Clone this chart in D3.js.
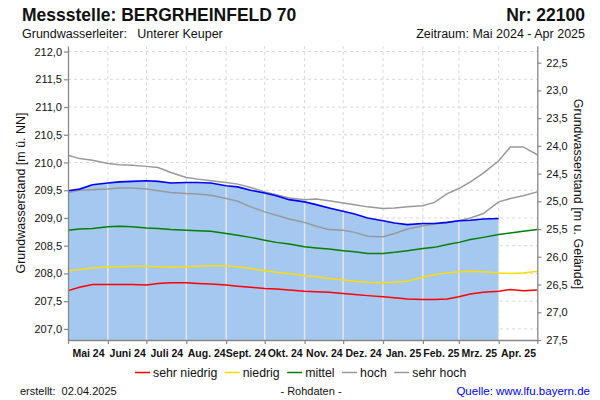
<!DOCTYPE html>
<html>
<head>
<meta charset="utf-8">
<script src="https://cdn.jsdelivr.net/npm/d3@7"></script>
<style>
  html, body { margin: 0; padding: 0; background: #fff; }
  svg { display: block; font-family: "Liberation Sans", Arial, sans-serif; }
</style>
</head>
<body>
<svg id="chart" width="600" height="400"></svg>
<script>
// ---------- data ----------
const dates = ["2024-05-01","2024-05-10","2024-05-20","2024-06-01","2024-06-10","2024-06-20","2024-07-01","2024-07-10","2024-07-20","2024-08-01","2024-08-10","2024-08-20","2024-09-01","2024-09-10","2024-09-20","2024-10-01","2024-10-10","2024-10-20","2024-11-01","2024-11-10","2024-11-20","2024-12-01","2024-12-10","2024-12-20","2025-01-01","2025-01-10","2025-01-20","2025-02-01","2025-02-10","2025-02-20","2025-03-01","2025-03-10","2025-03-20","2025-04-01","2025-04-10","2025-04-20","2025-05-01"];
const sehrHoch = [210.13,210.07,210.04,209.98,209.96,209.95,209.93,209.91,209.82,209.73,209.70,209.67,209.64,209.61,209.55,209.47,209.42,209.36,209.33,209.34,209.31,209.27,209.24,209.20,209.17,209.18,209.20,209.22,209.28,209.44,209.53,209.65,209.81,210.03,210.28,210.28,210.14];
const hoch = [209.46,209.50,209.51,209.52,209.54,209.54,209.52,209.49,209.46,209.44,209.43,209.41,209.35,209.30,209.20,209.11,209.05,208.98,208.92,208.85,208.79,208.78,208.74,208.67,208.66,208.72,208.80,208.86,208.89,208.92,208.95,209.00,209.08,209.29,209.35,209.40,209.47];
const mittel = [208.78,208.80,208.81,208.84,208.85,208.84,208.82,208.81,208.79,208.78,208.77,208.76,208.72,208.69,208.65,208.60,208.56,208.53,208.48,208.46,208.44,208.41,208.39,208.36,208.36,208.38,208.41,208.45,208.47,208.52,208.56,208.61,208.65,208.70,208.73,208.76,208.79];
const niedrig = [208.05,208.07,208.10,208.12,208.12,208.13,208.13,208.12,208.11,208.12,208.13,208.14,208.14,208.12,208.09,208.05,208.02,208.00,207.96,207.94,207.91,207.88,207.86,207.84,207.83,207.84,207.86,207.93,207.98,208.01,208.03,208.04,208.03,208.01,208.00,208.01,208.04];
const sehrNiedrig = [207.69,207.75,207.80,207.80,207.80,207.80,207.79,207.82,207.83,207.83,207.82,207.81,207.79,207.77,207.75,207.73,207.72,207.70,207.68,207.67,207.66,207.64,207.62,207.60,207.58,207.56,207.54,207.53,207.53,207.54,207.58,207.63,207.66,207.68,207.71,207.69,207.70];
// current measurements (May 2024 - Apr 1 2025)
const aktuell = [209.49,209.52,209.60,209.63,209.65,209.66,209.67,209.66,209.63,209.64,209.64,209.63,209.58,209.56,209.50,209.45,209.40,209.33,209.29,209.24,209.18,209.12,209.07,209.00,208.95,208.91,208.88,208.90,208.90,208.92,208.95,208.96,208.98,208.99];
const monthLabels = ["Mai 24","Juni 24","Juli 24","Aug. 24","Sept. 24","Okt. 24","Nov. 24","Dez. 24","Jan. 25","Feb. 25","Mrz. 25","Apr. 25"];
const leftTicks = [207.0,207.5,208.0,208.5,209.0,209.5,210.0,210.5,211.0,211.5,212.0];
const rightTicks = [22.5,23.0,23.5,24.0,24.5,25.0,25.5,26.0,26.5,27.0,27.5];
const gelaende = 234.3;
const legendNames = ["sehr niedrig","niedrig","mittel","hoch","sehr hoch"];
const legendColors = ["#ff0000","#ffdd00","#008000","#999999","#999999"];

// ---------- layout ----------
const svg = d3.select("#chart");
const L = 68, R = 537.3, T = 46, B = 340;
const parse = d3.utcParse("%Y-%m-%d");
const D = dates.map(parse);

const x = d3.scaleUtc().domain([parse("2024-05-01"), parse("2025-05-01")]).range([L, R]);
const y = d3.scaleLinear().domain([206.8, 212.1]).range([B, T]);
const yR = d3.scaleLinear().domain([gelaende - 206.8, gelaende - 212.1]).range([B, T]);
const fmt = v => d3.format(".1f")(v).replace(".", ",");
const months = d3.utcMonth.range(parse("2024-05-01"), parse("2025-05-02"));

// dashed grid
const grid = svg.append("g");
grid.selectAll("line.h").data(leftTicks).enter().append("line")
  .attr("x1", L).attr("x2", R).attr("y1", d => y(d)).attr("y2", d => y(d))
  .attr("stroke", "#d9d9d9").attr("stroke-dasharray", "3,3");
grid.selectAll("line.v").data(months.slice(1, -1)).enter().append("line")
  .attr("x1", d => x(d)).attr("x2", d => x(d)).attr("y1", T).attr("y2", B)
  .attr("stroke", "#d9d9d9").attr("stroke-dasharray", "3,3");

// area of current year
const curData = aktuell.map((v, i) => [D[i], v]);
const area = d3.area().x(d => x(d[0])).y0(B).y1(d => y(d[1]));
svg.append("path").datum(curData).attr("d", area).attr("fill", "#a5c8f0");
svg.append("clipPath").attr("id", "areaClip").append("path").datum(curData).attr("d", area);
svg.append("g").attr("clip-path", "url(#areaClip)")
  .selectAll("line").data(months.slice(1, -1)).enter().append("line")
  .attr("x1", d => x(d)).attr("x2", d => x(d)).attr("y1", T).attr("y2", B)
  .attr("stroke", "#e4e4e4").attr("stroke-width", 1.5);

// lines
const line = d3.line().x(d => x(d[0])).y(d => y(d[1]));
const series = [
  {v: sehrNiedrig, c: legendColors[0]},
  {v: niedrig, c: legendColors[1]},
  {v: mittel, c: legendColors[2]},
  {v: hoch, c: legendColors[3]},
  {v: sehrHoch, c: legendColors[4]}
];
series.forEach(s => {
  svg.append("path").datum(s.v.map((v, i) => [D[i], v])).attr("d", line)
    .attr("fill", "none").attr("stroke", s.c).attr("stroke-width", 1.5);
});
svg.append("path").datum(curData).attr("d", line)
  .attr("fill", "none").attr("stroke", "#0000ff").attr("stroke-width", 1.6);

// axes
const axisColor = "#888";
const gL = svg.append("g").attr("transform", `translate(${L},0)`)
  .call(d3.axisLeft(y).tickValues(leftTicks).tickFormat(fmt).tickSize(4).tickSizeOuter(0));
const gR = svg.append("g").attr("transform", `translate(${R},0)`)
  .call(d3.axisRight(yR).tickValues(rightTicks).tickFormat(fmt).tickSize(4).tickSizeOuter(0));
const gB = svg.append("g").attr("transform", `translate(0,${B})`)
  .call(d3.axisBottom(x).tickValues(months).tickFormat("").tickSize(4).tickSizeOuter(0));
const mids = months.slice(0, -1).map((m, i) => new Date((m.getTime() + months[i + 1].getTime()) / 2));
const gBL = svg.append("g").attr("transform", `translate(0,${B})`)
  .call(d3.axisBottom(x).tickValues(mids).tickFormat((d, i) => monthLabels[i]).tickSize(0).tickPadding(10));
gBL.select(".domain").remove();

[gL, gR, gB].forEach(g => {
  g.select(".domain").attr("stroke", axisColor).attr("stroke-width", 1.3);
  g.selectAll(".tick line").attr("stroke", axisColor).attr("stroke-width", 1.2);
});
[gL, gR].forEach(g => g.selectAll("text").attr("fill", "#111").style("font-size", "11px")
  .style("font-family", "'Liberation Sans', Arial, sans-serif"));
gL.selectAll("text").attr("x", -6);
gR.selectAll("text").attr("x", 9);
gBL.selectAll("text").attr("fill", "#111").style("font-size", "10.5px").style("font-weight", "bold")
  .style("font-family", "'Liberation Sans', Arial, sans-serif");

// axis titles
svg.append("text").attr("transform", "translate(25,193) rotate(-90)")
  .attr("text-anchor", "middle").style("font-size", "12.5px").attr("fill", "#111")
  .text("Grundwasserstand [m ü. NN]");
svg.append("text").attr("transform", "translate(574,194) rotate(90)")
  .attr("text-anchor", "middle").style("font-size", "12.5px").attr("fill", "#111")
  .text("Grundwasserstand [m u. Gelände]");

// header
svg.append("text").attr("x", 22).attr("y", 21).style("font-size", "17.5px").style("font-weight", "bold")
  .attr("fill", "#111").text("Messstelle: BERGRHEINFELD 70");
svg.append("text").attr("x", 585).attr("y", 21).attr("text-anchor", "end").style("font-size", "17.5px")
  .style("font-weight", "bold").attr("fill", "#111").text("Nr: 22100");
svg.append("text").attr("x", 22).attr("y", 38).style("font-size", "12.5px").attr("fill", "#111")
  .style("white-space", "pre").text("Grundwasserleiter:   Unterer Keuper");
svg.append("text").attr("x", 585).attr("y", 38).attr("text-anchor", "end").style("font-size", "12.5px")
  .attr("fill", "#111").text("Zeitraum: Mai 2024 - Apr 2025");

// legend
let lx = 135;
const ly = 372.5;
legendNames.forEach((n, i) => {
  svg.append("line").attr("x1", lx).attr("x2", lx + 15).attr("y1", ly).attr("y2", ly)
    .attr("stroke", legendColors[i]).attr("stroke-width", 1.5);
  const t = svg.append("text").attr("x", lx + 18).attr("y", ly + 4.5).style("font-size", "12.3px")
    .attr("fill", "#111").text(n);
  lx += 18 + t.node().getComputedTextLength() + 7.5;
});

// footer
svg.append("text").attr("x", 20).attr("y", 395).style("font-size", "11px").attr("fill", "#111")
  .style("white-space", "pre").text("erstellt:  02.04.2025");
svg.append("text").attr("x", 311).attr("y", 395).attr("text-anchor", "middle").style("font-size", "11px")
  .attr("fill", "#111").text("- Rohdaten -");
svg.append("text").attr("x", 590).attr("y", 395).attr("text-anchor", "end").style("font-size", "11.5px")
  .attr("fill", "#0000ff").text("Quelle: www.lfu.bayern.de");
</script>
</body>
</html>
